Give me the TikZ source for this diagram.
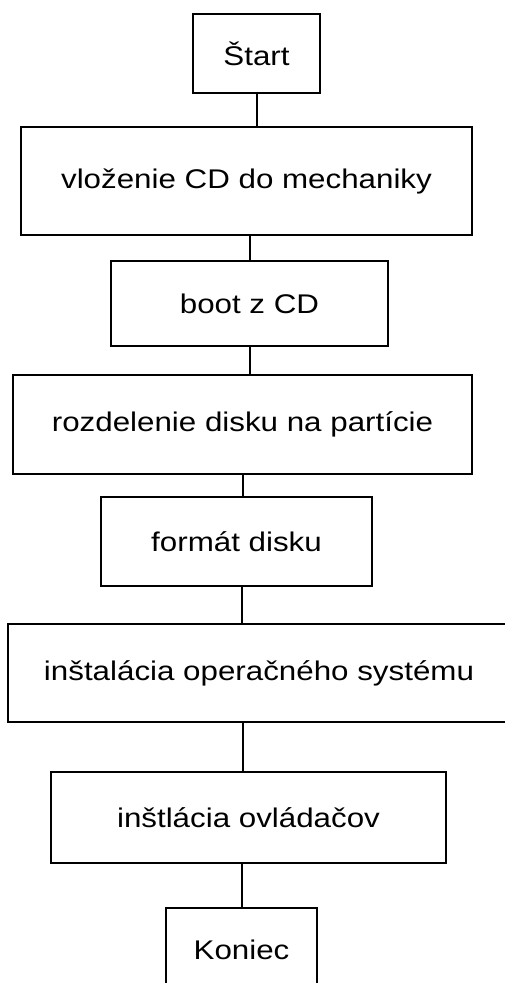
\documentclass[tikz,border=0pt]{standalone}
\usepackage{fontspec}
\setmainfont{Liberation Sans}[FakeStretch=1.16]
\usetikzlibrary{calc}

\begin{document}
\begin{tikzpicture}[x=1pt, y=-1pt, line width=2pt,
  box/.style={draw, rectangle, inner sep=0pt, font=\fontsize{27}{32}\selectfont}]
\useasboundingbox (0,0) rectangle (504,983);

\node[box, minimum width=127, minimum height=79] (start) at (256.5,53.5) {Štart};
\node[box, minimum width=451, minimum height=108] (cd) at (246.5,181) {vloženie CD do mechaniky};
\node[box, minimum width=277, minimum height=85] (boot) at (249.5,303.5) {boot z CD};
\node[box, minimum width=459, minimum height=99] (part) at (242.5,424.5) {rozdelenie disku na partície};
\node[box, minimum width=271, minimum height=89] (format) at (236.5,541.5) {formát disku};
\node[box, minimum width=502, minimum height=98] (os) at (259,673) {inštalácia operačného systému};
\node[box, minimum width=395, minimum height=91] (drivers) at (248.5,817.5) {inštlácia ovládačov};
\node[box, minimum width=151, minimum height=84] (end) at (241.5,950) {Koniec};

\draw (start.south) -- (start.south |- cd.north);
\draw (boot.north) -- (boot.north |- cd.south);
\draw (boot.south) -- (boot.south |- part.north);
\draw (part.south) -- (part.south |- format.north);
\draw ([xshift=5pt]format.south) -- ([xshift=5pt]format.south |- os.north);
\draw ([xshift=-6pt]drivers.north) -- ([xshift=-6pt]drivers.north |- os.south);
\draw (end.north) -- (end.north |- drivers.south);
\end{tikzpicture}
\end{document}
